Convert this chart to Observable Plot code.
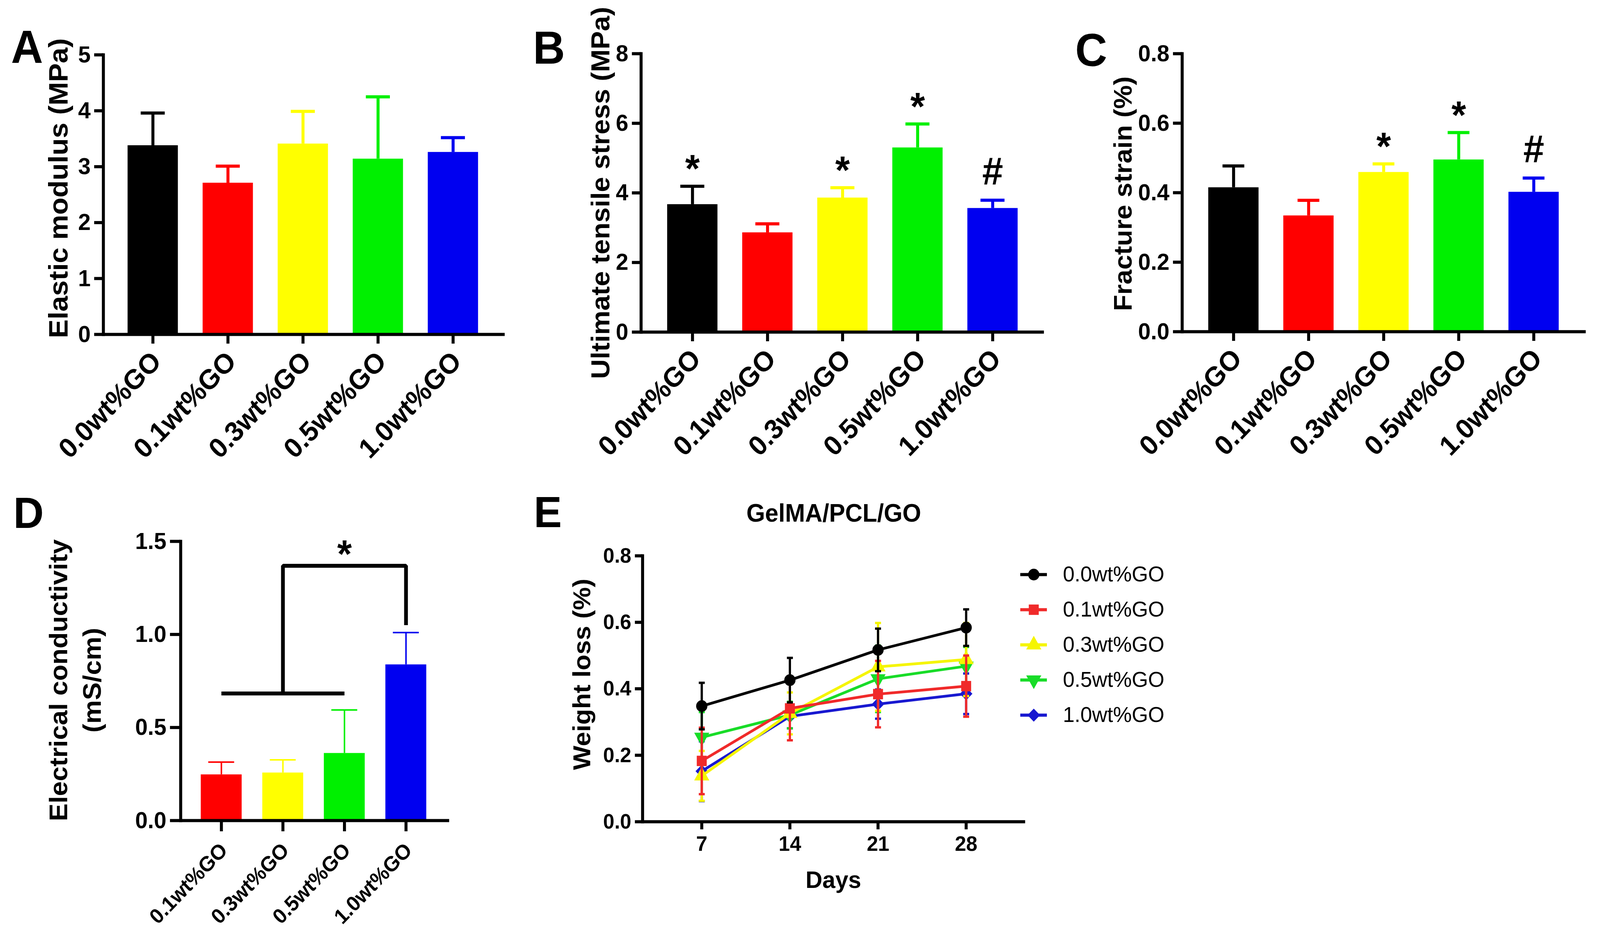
<!DOCTYPE html>
<html>
<head>
<meta charset="utf-8">
<script src="https://cdn.jsdelivr.net/npm/d3@7"></script>
<script src="https://cdn.jsdelivr.net/npm/@observablehq/plot@0.6"></script>
<style>
  html, body { margin: 0; padding: 0; background: #fff; overflow: hidden; }
  #root { position: absolute; left: 0; top: 0; width: 4264px; height: 2392px; background: #fff; overflow: hidden;
          font-family: "Liberation Sans", Arial, sans-serif; transform-origin: 0 0; }
  .lbl { position: absolute; white-space: nowrap; color: #000; line-height: 1; }
</style>
</head>
<body>
<div id="root"></div>
<script>
// ---------------- DATA ----------------
const groups = ["0.0wt%GO", "0.1wt%GO", "0.3wt%GO", "0.5wt%GO", "1.0wt%GO"];
const barColors = ["#000000", "#ff0000", "#ffff00", "#00f000", "#0000f0"];

// A: elastic modulus (MPa)
const modulusMean = [3.38, 2.71, 3.41, 3.14, 3.26];
const modulusSD   = [0.58, 0.30, 0.58, 1.11, 0.26];
// B: ultimate tensile stress (MPa)
const stressMean = [3.67, 2.86, 3.86, 5.30, 3.56];
const stressSD   = [0.52, 0.25, 0.29, 0.68, 0.23];
const stressSig  = ["*", "", "*", "*", "#"];
// C: fracture strain (%)
const strainMean = [0.415, 0.334, 0.459, 0.495, 0.402];
const strainSD   = [0.062, 0.044, 0.024, 0.078, 0.040];
const strainSig  = ["", "", "*", "*", "#"];
// D: electrical conductivity (mS/cm)
const condGroups = ["0.1wt%GO", "0.3wt%GO", "0.5wt%GO", "1.0wt%GO"];
const condMean = [0.247, 0.257, 0.362, 0.838];
const condSD   = [0.067, 0.069, 0.232, 0.172];
// D: significance bracket (group, level)
const bracketBase = [["0.1wt%GO", 0.683], ["0.5wt%GO", 0.683]];
const bracketArm  = [["0.3wt%GO", 0.683], ["0.3wt%GO", 1.369], ["1.0wt%GO", 1.369], ["1.0wt%GO", 1.05]];
const bracketStar = [["0.5wt%GO", 1.369, "*"]];

// E: weight loss (%) over days
const days = [7, 14, 21, 28];
const seriesNames  = ["0.0wt%GO", "0.1wt%GO", "0.3wt%GO", "0.5wt%GO", "1.0wt%GO"];
const seriesColors = ["#000000", "#f02a2a", "#f5f500", "#18dc28", "#1818d0"];
const loss00 = [0.348, 0.426, 0.517, 0.584]; const loss00SD = [0.070, 0.067, 0.064, 0.055];
const loss01 = [0.183, 0.341, 0.384, 0.408]; const loss01SD = [0.100, 0.096, 0.100, 0.092];
const loss03 = [0.138, 0.326, 0.466, 0.488]; const loss03SD = [0.075, 0.063, 0.132, 0.110];
const loss05 = [0.254, 0.321, 0.430, 0.468]; const loss05SD = [0.076, 0.040, 0.100, 0.058];
const loss10 = [0.152, 0.317, 0.354, 0.385]; const loss10SD = [0.090, 0.036, 0.044, 0.061];
const lossMeans = [loss00, loss01, loss03, loss05, loss10];
const lossSDs   = [loss00SD, loss01SD, loss03SD, loss05SD, loss10SD];

// ---------------- LAYOUT ----------------
const W = 4264, H = 2392;
const root = document.getElementById("root");
const FONT = '"Liberation Sans", Arial, sans-serif';
const svgStyle = {position: "absolute", left: "0px", top: "0px", background: "none",
                  overflow: "visible", maxWidth: "none", fontFamily: FONT};

function addText(text, x, y, {size = 60, weight = "bold", rotate = 0} = {}) {
  const d = document.createElement("div");
  d.className = "lbl";
  d.textContent = text;
  d.style.left = x + "px";
  d.style.top = y + "px";
  d.style.fontSize = size + "px";
  d.style.fontWeight = weight;
  d.style.transform = `translate(-50%, -50%) rotate(${rotate}deg)`;
  root.appendChild(d);
}

function barPanel(o) {
  const rows = o.cats.map((c, i) => ({cat: c, v: o.mean[i], e: o.mean[i] + o.sd[i], s: o.sig ? o.sig[i] : ""}));
  const marks = [
    Plot.ruleX(rows, {x: "cat", y1: "v", y2: "e", stroke: "cat", strokeWidth: o.errW}),
    Plot.tickY(rows, {x: "cat", y: "e", stroke: "cat", strokeWidth: o.errW, inset: o.capInset}),
    Plot.barY(rows, {x: "cat", y: "v", fill: "cat"}),
    Plot.text(rows.filter(r => r.s === "*"), {x: "cat", y: "e", text: "s", dy: -43, fontSize: 100, fontWeight: "bold"}),
    Plot.text(rows.filter(r => r.s === "#"), {x: "cat", y: "e", text: "s", dy: -72, fontSize: 100, fontWeight: "bold"}),
    ...(o.extra || []),
    Plot.ruleY([0], {stroke: "#000", strokeWidth: 8}),
    Plot.frame({anchor: "left", stroke: "#000", strokeWidth: 8}),
    Plot.axisY({ticks: o.yTicks, tickFormat: o.fmt, tickSize: o.tick, tickPadding: 10, strokeWidth: 8,
                fontSize: 60, fontWeight: "bold", label: null}),
    Plot.axisX({tickSize: o.tick, strokeWidth: 8, tickFormat: () => null, label: null}),
    Plot.text(rows, {x: "cat", y: 0, text: "cat", rotate: -45, textAnchor: "end", lineAnchor: "middle",
                     dx: o.xdx, dy: o.xdy, fontSize: o.xFont, fontWeight: "bold"})
  ];
  const svg = Plot.plot({
    width: W, height: H,
    marginLeft: o.left, marginRight: W - o.right, marginTop: o.top, marginBottom: H - o.bottom,
    style: svgStyle,
    // paddingOuter = paddingInner / 2 gives step = range / n, so bands sit centred in equal slots
    x: {domain: o.cats, range: o.xRange, paddingInner: o.padIn, paddingOuter: o.padIn / 2, axis: null},
    y: {domain: o.yDomain, axis: null},
    color: {domain: groups, range: barColors},
    marks
  });
  root.appendChild(svg);
}

// A
barPanel({cats: groups, mean: modulusMean, sd: modulusSD, yDomain: [0, 5], yTicks: [0, 1, 2, 3, 4, 5],
  fmt: d3.format("d"), left: 275, right: 1345, top: 140, bottom: 856, xRange: [307, 1307], padIn: 0.33,
  errW: 8, capInset: 35, tick: 24, xFont: 71, xdx: 10, xdy: 57});
// B
barPanel({cats: groups, mean: stressMean, sd: stressSD, sig: stressSig, yDomain: [0, 8], yTicks: [0, 2, 4, 6, 8],
  fmt: d3.format("d"), left: 1708, right: 2782, top: 137, bottom: 850, xRange: [1745, 2745], padIn: 0.33,
  errW: 8, capInset: 35, tick: 24, xFont: 71, xdx: 10, xdy: 57});
// C
barPanel({cats: groups, mean: strainMean, sd: strainSD, sig: strainSig, yDomain: [0, 0.8], yTicks: [0, 0.2, 0.4, 0.6, 0.8],
  fmt: d3.format(".1f"), left: 3150, right: 4226, top: 137, bottom: 849, xRange: [3187, 4187], padIn: 0.33,
  errW: 8, capInset: 38, tick: 24, xFont: 71, xdx: 10, xdy: 57});
// D
barPanel({cats: condGroups, mean: condMean, sd: condSD, yDomain: [0, 1.5], yTicks: [0, 0.5, 1.0, 1.5],
  fmt: d3.format(".1f"), left: 481, right: 1197, top: 1386, bottom: 2101, xRange: [507, 1164], padIn: 0.335,
  errW: 4, capInset: 20, tick: 28, xFont: 54, xdx: 7, xdy: 67,
  extra: [
    Plot.line(bracketBase, {x: d => d[0], y: d => d[1], stroke: "#000", strokeWidth: 10, strokeLinejoin: "miter", strokeLinecap: "butt"}),
    Plot.line(bracketArm, {x: d => d[0], y: d => d[1], stroke: "#000", strokeWidth: 10, strokeLinejoin: "miter", strokeLinecap: "butt"}),
    Plot.text(bracketStar, {x: d => d[0], y: d => d[1], text: d => d[2], dy: -28, fontSize: 100, fontWeight: "bold"})
  ]});

// E
const triDown = {
  draw(context, size) {
    const s3 = Math.sqrt(3);
    const y = -Math.sqrt(size / (s3 * 3));
    context.moveTo(0, -y * 2);
    context.lineTo(-s3 * y, y);
    context.lineTo(s3 * y, y);
    context.closePath();
  }
};
const capSym = {
  draw(context, size) {
    const w = Math.sqrt(size) / 2;
    context.moveTo(-w, 0);
    context.lineTo(w, 0);
  }
};
const lossRows = seriesNames.flatMap((name, s) => days.map((d, i) => ({
  name, day: d, v: lossMeans[s][i], lo: lossMeans[s][i] - lossSDs[s][i], hi: lossMeans[s][i] + lossSDs[s][i]
})));
const symbolRange = [d3.symbolCircle, d3.symbolSquare, d3.symbolTriangle, triDown, d3.symbolDiamond2];
const eMarks = [];
[4, 3, 2, 1, 0].forEach(s => {
  const rows = lossRows.filter(r => r.name === seriesNames[s]);
  eMarks.push(
    Plot.ruleX(rows, {x: "day", y1: "lo", y2: "hi", stroke: "name", strokeWidth: 6}),
    Plot.dot(rows, {x: "day", y: "hi", symbol: capSym, r: 9, fill: "none", stroke: "name", strokeWidth: 6}),
    Plot.dot(rows, {x: "day", y: "lo", symbol: capSym, r: 9, fill: "none", stroke: "name", strokeWidth: 6}),
    Plot.line(rows, {x: "day", y: "v", stroke: "name", strokeWidth: 7}),
    Plot.dot(rows, {x: "day", y: "v", symbol: "name", fill: "name", stroke: "none", r: 15})
  );
});
root.appendChild(Plot.plot({
  width: W, height: H,
  marginLeft: 1712, marginRight: W - 2732, marginTop: 1423, marginBottom: H - 2104,
  style: svgStyle,
  x: {domain: [2.3, 32.7], axis: null},
  y: {domain: [0, 0.8], axis: null},
  color: {domain: seriesNames, range: seriesColors},
  symbol: {domain: seriesNames, range: symbolRange},
  marks: [
    ...eMarks,
    Plot.ruleY([0], {stroke: "#000", strokeWidth: 8}),
    Plot.frame({anchor: "left", stroke: "#000", strokeWidth: 8}),
    Plot.axisY({ticks: [0, 0.2, 0.4, 0.6, 0.8], tickFormat: d3.format(".1f"), tickSize: 20, tickPadding: 10,
                strokeWidth: 8, fontSize: 54, fontWeight: "bold", label: null}),
    Plot.axisX({ticks: days, tickFormat: d3.format("d"), tickSize: 20, tickPadding: 16, strokeWidth: 8,
                fontSize: 54, fontWeight: "bold", label: null})
  ]
}));

// E legend
root.appendChild(Plot.plot({
  width: W, height: H, margin: 0,
  style: svgStyle,
  x: {domain: [0, 1], range: [2719, 2790], axis: null},
  y: {type: "point", domain: seriesNames, range: [1469, 1832], padding: 0, axis: null},
  color: {domain: seriesNames, range: seriesColors},
  symbol: {domain: seriesNames, range: symbolRange},
  marks: [
    Plot.ruleY(seriesNames, {y: d => d, x1: 0, x2: 1, stroke: d => d, strokeWidth: 8}),
    Plot.dot(seriesNames, {x: 0.5, y: d => d, symbol: d => d, fill: d => d, stroke: "none", r: 15}),
    Plot.text(seriesNames, {x: 1, y: d => d, text: d => d, dx: 42, textAnchor: "start", fontSize: 56})
  ]
}));

// ---------------- TEXT ----------------
addText("A", 72, 120, {size: 118});
addText("B", 1463, 122, {size: 118});
addText("C", 2908, 128, {size: 118});
addText("D", 76, 1314, {size: 112});
addText("E", 1460, 1312, {size: 112});

addText("Elastic modulus (MPa)", 155, 482, {size: 72, rotate: -90});
addText("Ultimate tensile stress (MPa)", 1600, 494, {size: 70, rotate: -90});
addText("Fracture strain (%)", 2992, 496, {size: 68, rotate: -90});
addText("Electrical conductivity", 155, 1742, {size: 68, rotate: -90});
addText("(mS/cm)", 245, 1742, {size: 68, rotate: -90});
addText("Weight loss (%)", 1550, 1727, {size: 66, rotate: -90});
addText("GelMA/PCL/GO", 2222, 1314, {size: 64});
addText("Days", 2221, 2253, {size: 62});

// fit the 4264×2392 figure to the actual viewport
function fit() {
  const sx = window.innerWidth / W, sy = window.innerHeight / H;
  root.style.transform = (sx < 1 || sy < 1) ? `scale(${Math.min(sx, 1)}, ${Math.min(sy, 1)})` : "none";
}
fit();
window.addEventListener("resize", fit);
</script>
</body>
</html>
